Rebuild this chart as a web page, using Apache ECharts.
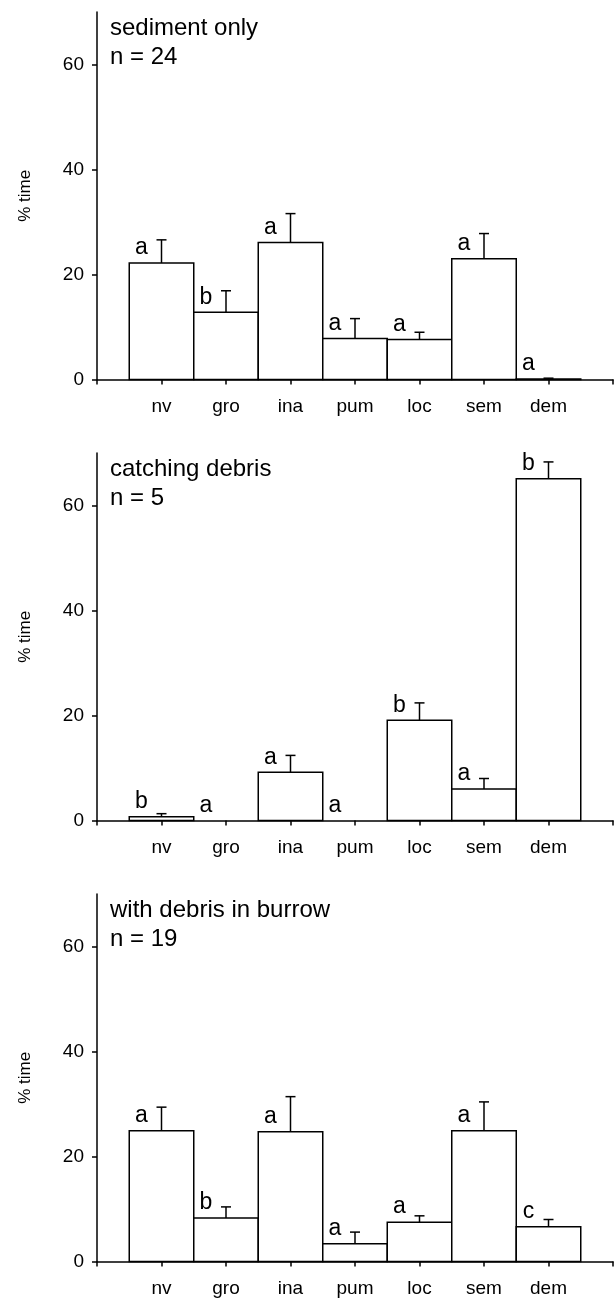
<!DOCTYPE html>
<html>
<head>
<meta charset="utf-8">
<script src="https://cdn.jsdelivr.net/npm/echarts@6/dist/echarts.min.js"></script>
<style>
html,body{margin:0;padding:0;background:#fff;}
#chart{width:616px;height:1302px;}
</style>
</head>
<body>
<div id="chart"></div>
<script>
// ---- data ----
const categories = ['nv', 'gro', 'ina', 'pum', 'loc', 'sem', 'dem'];
const yTicks = [0, 20, 40, 60];

const sedimentTitle = 'sediment only\nn = 24';
const sedimentMean = [22.2, 12.8, 26.1, 7.8, 7.6, 23.0, 0.1];
const sedimentSE = [4.4, 4.1, 5.5, 3.8, 1.4, 4.8, 0.15];
const sedimentLetters = ['a', 'b', 'a', 'a', 'a', 'a', 'a'];

const catchingTitle = 'catching debris\nn = 5';
const catchingMean = [0.7, 0, 9.2, 0, 19.1, 6.0, 65.1];
const catchingSE = [0.6, 0, 3.2, 0, 3.3, 2.0, 3.2];
const catchingLetters = ['b', 'a', 'a', 'a', 'b', 'a', 'b'];

const burrowTitle = 'with debris in burrow\nn = 19';
const burrowMean = [24.9, 8.3, 24.7, 3.4, 7.5, 24.9, 6.6];
const burrowSE = [4.5, 2.1, 6.7, 2.2, 1.2, 5.5, 1.4];
const burrowLetters = ['a', 'b', 'a', 'a', 'a', 'a', 'c'];

// ---- layout ----
const FONT = "'Liberation Sans', Arial, sans-serif";
const gridTops = [12, 453, 894];
const gridHeight = 367.5;
const panels = [
  {title: sedimentTitle, mean: sedimentMean, se: sedimentSE, letters: sedimentLetters},
  {title: catchingTitle, mean: catchingMean, se: catchingSE, letters: catchingLetters},
  {title: burrowTitle, mean: burrowMean, se: burrowSE, letters: burrowLetters}
];

const chart = echarts.init(document.getElementById('chart'), null, {renderer: 'canvas'});

const grid = [], xAxis = [], yAxis = [], series = [], title = [];
panels.forEach((p, i) => {
  grid.push({left: 97, right: 2, top: gridTops[i], height: gridHeight});
  title.push({
    text: p.title, left: 110, top: gridTops[i] + 2, padding: 0,
    textStyle: {fontFamily: FONT, fontSize: 24, fontWeight: 'normal', color: '#000', lineHeight: 29}
  });
  xAxis.push({
    type: 'value', gridIndex: i, min: 0, max: 8, interval: 1,
    axisLine: {show: true, lineStyle: {color: '#000', width: 1.5}},
    axisTick: {show: true, length: 5, lineStyle: {color: '#000', width: 1.5}},
    splitLine: {show: false},
    axisLabel: {
      color: '#000', fontFamily: FONT, fontSize: 19, margin: 18,
      formatter: v => categories[v - 1] || ''
    }
  });
  yAxis.push({
    type: 'value', gridIndex: i, min: 0, max: 70, interval: 10,
    name: '% time', nameLocation: 'middle', nameGap: 63,
    nameTextStyle: {color: '#000', fontFamily: FONT, fontSize: 17},
    axisLine: {show: true, lineStyle: {color: '#000', width: 1.5}},
    axisTick: {show: true, length: 5, customValues: yTicks, lineStyle: {color: '#000', width: 1.5}},
    splitLine: {show: false},
    axisLabel: {color: '#000', fontFamily: FONT, fontSize: 19, margin: 13, customValues: yTicks}
  });
  const data = categories.map((c, k) => [k + 1, p.mean[k], p.se[k]]);
  series.push({
    type: 'custom', xAxisIndex: i, yAxisIndex: i, clip: false,
    data: data,
    renderItem: function (params, api) {
      const x = api.value(0), m = api.value(1), se = api.value(2);
      const children = [];
      const base = api.coord([x, m]);
      if (m > 0) {
        const tl = api.coord([x - 0.5, m]);
        const br = api.coord([x + 0.5, 0]);
        children.push({
          type: 'rect',
          shape: {x: tl[0], y: tl[1], width: br[0] - tl[0], height: br[1] - tl[1]},
          style: {fill: '#fff', stroke: '#000', lineWidth: 1.5}
        });
      }
      if (se > 0) {
        const top = api.coord([x, m + se]);
        children.push({
          type: 'line',
          shape: {x1: base[0], y1: base[1], x2: top[0], y2: top[1]},
          style: {stroke: '#000', lineWidth: 1.5}
        });
        children.push({
          type: 'line',
          shape: {x1: top[0] - 5, y1: top[1], x2: top[0] + 5, y2: top[1]},
          style: {stroke: '#000', lineWidth: 1.5}
        });
      }
      children.push({
        type: 'text',
        style: {
          text: p.letters[params.dataIndex],
          x: base[0] - 20, y: base[1] - 15,
          textAlign: 'center', textVerticalAlign: 'middle',
          fill: '#000', font: '23px ' + FONT
        }
      });
      return {type: 'group', children: children};
    }
  });
});

chart.setOption({
  animation: false,
  backgroundColor: '#fff',
  title: title,
  grid: grid,
  xAxis: xAxis,
  yAxis: yAxis,
  series: series
});
</script>
</body>
</html>
